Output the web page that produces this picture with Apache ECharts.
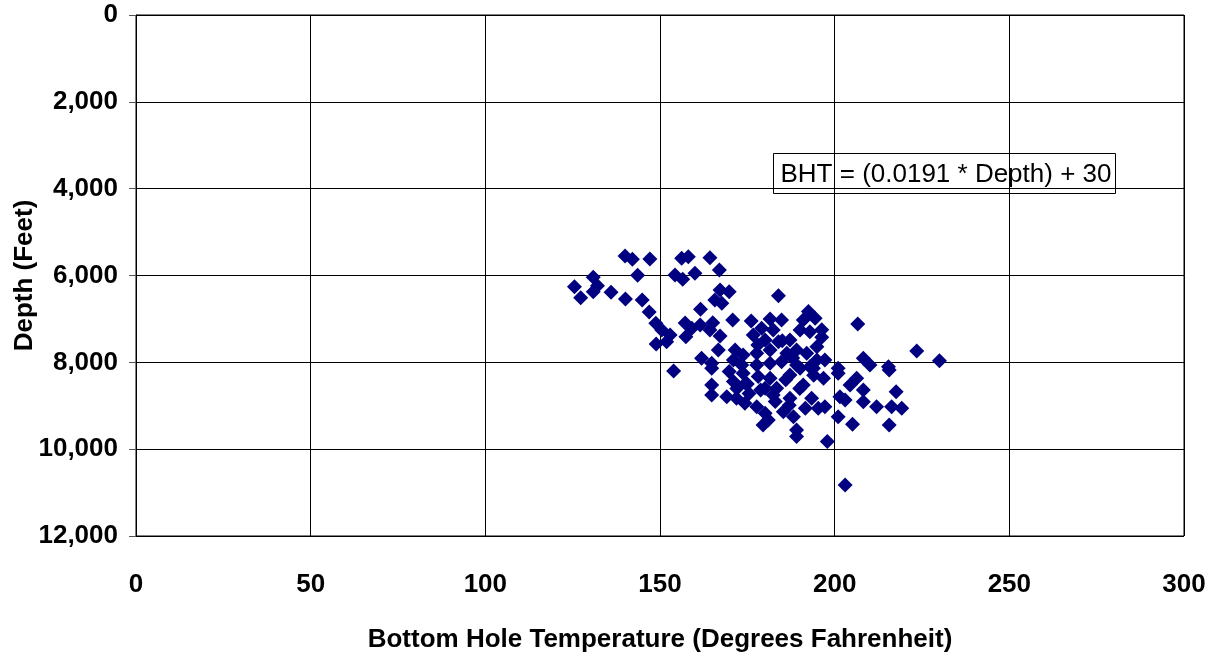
<!DOCTYPE html>
<html><head><meta charset="utf-8">
<script src="https://cdn.jsdelivr.net/npm/echarts@6/dist/echarts.min.js"></script>
<style>html,body{margin:0;padding:0;background:#fff}#c{width:1214px;height:658px}</style>
</head><body><div id="c"></div>
<script>
const xTicks = [0, 50, 100, 150, 200, 250, 300];
const yTicks = [0, 2000, 4000, 6000, 8000, 10000, 12000];
const xLabel = 'Bottom Hole Temperature (Degrees Fahrenheit)';
const yLabel = 'Depth (Feet)';
const equation = 'BHT = (0.0191 * Depth) + 30';
// Bottom hole temperature (°F)
const bht = [140,142.1,147.1,143.6,125.5,127.3,130.9,132.1,130.9,136,140.1,144.9,146.9,148.8,150.5,152.9,148.9,151.9,153.9,156.2,158.1,154.3,156.5,157.2,157.4,
164.3,160,167,167.2,169.8,165.7,167.7,161.6,183.9,170.8,165.1,161.5,159.1,167.2,164.3,166.7,161.9,164.8,176.1,181.5,184.8,179.1,182.4,176.7,180.1,183.9,187.2,
192.5,191,194.4,190.1,192.9,171.5,173.8,171,177.7,181.5,186.3,189.1,192,194.9,194.9,173.4,177.7,181.5,184.8,189.1,192.9,
206.6,223.5,230,208.2,210.1,215.4,196.3,196.3,197.2,201,215.6,201,196.8,206.3,204.4,208.2,201.5,203,208.2,217.6,212,216.3,219.2,197.2,201,205.1,215.6,197.9,203,
164.8,169.8,173.8,164.8,164.8,169.1,171.9,174.3,178.1,181.5,180.1,183.4,182.4,177.7,180.1,179.5,185.3,188.2,189.1,189.1,187.2,190.1,193.9,191,193.4,195.3,191.6,187.2,
178,185,188,175,172,186,183,190,194,174.5,178.8,187,181,175.5,171];
// Depth (feet)
const depth = [5550,5627,5620,5996,6257,6510,6041,6234,6372,6387,6541,6564,6840,7101,7255,7370,7577,7524,8200,5604,5566,5988,6088,7093,7408,
5589,5949,5873,6333,6372,6564,6640,6778,6464,7024,7086,7140,7216,7393,7255,7716,7907,8022,7047,7001,7024,7216,7255,7370,7485,7524,7485,
6832,7024,6985,7255,7293,7716,7830,7945,7792,7716,7792,7716,7792,7639,7945,8061,8061,8022,7984,8061,8099,
7116,7738,7961,7907,8061,8099,7247,7424,7945,8137,8176,8252,8367,8367,8521,8636,8790,8867,8905,8675,9021,9021,9059,9021,9251,9427,9443,9826,10824,
8137,8214,8252,8521,8751,8790,8829,8943,8329,8367,8598,8598,8751,9021,9174,9443,9136,9251,9558,9711,8291,8137,8137,8521,8829,9059,9059,8829,
7600,7500,7900,8500,8600,8400,8900,8600,8300,8480,8640,8990,9330,8720,8440];
const pts = bht.map((v, i) => [v, depth[i]]);

const chart = echarts.init(document.getElementById('c'), null, {renderer: 'canvas'});
const F = 'Liberation Sans, Arial, sans-serif';
const FS = 26;
chart.setOption({
  animation: false,
  backgroundColor: '#fff',
  grid: {left: 136, right: 30, top: 15, bottom: 122, containLabel: false, outerBoundsMode: 'none',
    show: true, borderColor: '#000', borderWidth: 1},
  xAxis: {
    type: 'value', min: xTicks[0], max: xTicks[xTicks.length - 1], interval: 50,
    name: xLabel, nameLocation: 'middle', nameGap: 91, nameMoveOverlap: false,
    nameTextStyle: {fontFamily: F, fontWeight: 'bold', fontSize: FS, color: '#000'},
    axisLine: {show: true, lineStyle: {color: '#000'}},
    axisTick: {show: false},
    axisLabel: {margin: 36, fontFamily: F, fontWeight: 'bold', fontSize: FS, color: '#000'},
    splitLine: {show: true, lineStyle: {color: '#000', width: 1}}
  },
  yAxis: {
    type: 'value', inverse: true, min: yTicks[0], max: yTicks[yTicks.length - 1], interval: 2000,
    name: yLabel, nameLocation: 'middle', nameGap: 98, nameRotate: 90, nameMoveOverlap: false,
    nameTextStyle: {fontFamily: F, fontWeight: 'bold', fontSize: FS, color: '#000'},
    axisLine: {show: true, lineStyle: {color: '#000'}},
    axisTick: {show: true, inside: false, length: 7, lineStyle: {color: '#555'}},
    axisLabel: {margin: 18, fontFamily: F, fontWeight: 'bold', fontSize: FS, color: '#000',
      formatter: v => v.toLocaleString('en-US')},
    splitLine: {show: true, lineStyle: {color: '#000', width: 1}}
  },
  series: [{
    type: 'scatter', data: pts, symbol: 'diamond', symbolSize: 15,
    itemStyle: {color: '#000080', opacity: 1}
  }],
  graphic: [{
    type: 'group', left: 773, top: 153,
    children: [
      {type: 'rect', shape: {x: 0, y: 0, width: 342, height: 40}, style: {fill: '#fff', stroke: '#000', lineWidth: 1}},
      {type: 'text', x: 7, y: 21, style: {text: equation, font: '26px ' + F, fill: '#000', verticalAlign: 'middle'}}
    ]
  }]
});
</script></body></html>
